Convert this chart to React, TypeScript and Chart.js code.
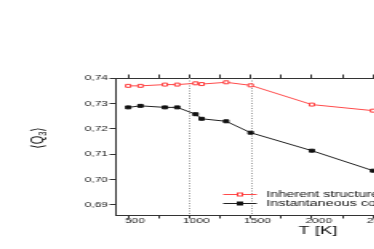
import React, { useEffect, useRef } from 'react';
import { Chart, registerables } from 'chart.js';

Chart.register(...registerables);

// ---- data ----
const temperatures = [500, 600, 800, 900, 1050, 1100, 1300, 1500, 2000, 2500];
const inherentQ3 = [0.737, 0.737, 0.7375, 0.7375, 0.738, 0.7377, 0.7384, 0.7372, 0.7296, 0.7272];
const instantaneousQ3 = [0.7285, 0.7291, 0.7285, 0.7285, 0.7258, 0.724, 0.723, 0.7185, 0.7114, 0.7035];
const seriesLabels = ['Inherent structures', 'Instantaneous configurations'];
const referenceTemps = [1000, 1500];
const tempTicks = [500, 750, 1000, 1250, 1500, 1750, 2000, 2250, 2500, 2750, 3000, 3250, 3500];
const labelledTemps = [500, 1000, 1500, 2000, 2500, 3000, 3500];

const FONT = '"Liberation Sans", Arial, "DejaVu Sans", sans-serif';
const W0 = 330;
const H = 249;
const SX = 1.6;

const overlayPlugin = {
  id: 'overlay',
  beforeDatasetsDraw(chart: any) {
    const { ctx, chartArea, scales } = chart;
    const x = scales.x;
    ctx.save();
    ctx.strokeStyle = '#9a9a9a';
    ctx.lineWidth = 1;
    ctx.setLineDash([1, 1.5]);
    referenceTemps.forEach((t) => {
      const px = Math.round(x.getPixelForValue(t)) + 0.5;
      ctx.beginPath();
      ctx.moveTo(px, chartArea.top);
      ctx.lineTo(px, chartArea.bottom);
      ctx.stroke();
    });
    ctx.restore();
  },
  afterDraw(chart: any) {
    const { ctx, chartArea, scales } = chart;

    // x tick labels (from the scale's own ticks)
    const xs = scales.x;
    ctx.save();
    ctx.fillStyle = '#1a1a1a';
    ctx.font = `7.5px ${FONT}`;
    ctx.textAlign = 'center';
    ctx.textBaseline = 'top';
    xs.ticks.forEach((tk: any) => {
      if (!labelledTemps.includes(tk.value)) return;
      ctx.fillText(String(tk.value), xs.getPixelForValue(tk.value) + 4.3, chartArea.bottom + 2);
    });
    ctx.restore();

    // legend inside plot, lower right
    ctx.save();
    chart.data.datasets.forEach((ds: any, i: number) => {
      const y = chartArea.bottom - 21 + i * 9;
      const lx = chartArea.left + 67;
      ctx.strokeStyle = ds.borderColor;
      ctx.lineWidth = 1;
      ctx.setLineDash([]);
      ctx.beginPath();
      ctx.moveTo(lx, y + 0.5);
      ctx.lineTo(lx + 21, y + 0.5);
      ctx.stroke();
      const s = 3;
      ctx.fillStyle = ds.pointBackgroundColor;
      ctx.fillRect(lx + 10.5 - s / 2, y + 0.5 - s / 2, s, s);
      ctx.strokeStyle = ds.pointBorderColor;
      ctx.strokeRect(lx + 10.5 - s / 2, y + 0.5 - s / 2, s, s);
      ctx.fillStyle = '#111';
      ctx.font = `9px ${FONT}`;
      ctx.textAlign = 'left';
      ctx.textBaseline = 'middle';
      ctx.fillText(ds.label, chartArea.left + 94, y + 0.5);
    });
    ctx.restore();

    // y-axis title <Q3>
    ctx.save();
    ctx.translate(chartArea.left - 49, chartArea.top + 60);
    ctx.rotate(-Math.PI / 2);
    ctx.fillStyle = '#111';
    ctx.textBaseline = 'middle';
    ctx.textAlign = 'left';
    const big = `11px ${FONT}`;
    const small = `7.5px ${FONT}`;
    const parts = [
      { t: '\u27E8', f: big, dy: 0 },
      { t: 'Q', f: big, dy: 0 },
      { t: '3', f: small, dy: 3.5 },
      { t: '\u27E9', f: big, dy: 0 },
    ];
    let total = 0;
    const widths = parts.map((p) => {
      ctx.font = p.f;
      const w = ctx.measureText(p.t).width;
      total += w;
      return w;
    });
    let cx = -total / 2;
    parts.forEach((p, i) => {
      ctx.font = p.f;
      ctx.fillText(p.t, cx, p.dy);
      cx += widths[i];
    });
    ctx.restore();
  },
};

const setTempTicks = (s: any) => {
  s.ticks = tempTicks.map((v) => ({ value: v }));
};

export default function App() {
  const canvasRef = useRef<HTMLCanvasElement | null>(null);

  useEffect(() => {
    if (!canvasRef.current) return;
    const tickFont = { family: FONT, size: 7.5 };
    const xTicks = {
      autoSkip: false,
      maxRotation: 0,
      display: false,
    };
    const chart = new Chart(canvasRef.current, {
      type: 'line',
      data: {
        datasets: [
          {
            label: seriesLabels[0],
            data: temperatures.map((t, i) => ({ x: t, y: inherentQ3[i] })),
            borderColor: '#ff4a4a',
            borderWidth: 1,
            pointStyle: 'rect',
            pointRadius: 2.1,
            pointBackgroundColor: '#ffffff',
            pointBorderColor: '#ff3a3a',
            pointBorderWidth: 1,
            xAxisID: 'x',
            yAxisID: 'y',
          },
          {
            label: seriesLabels[1],
            data: temperatures.map((t, i) => ({ x: t, y: instantaneousQ3[i] })),
            borderColor: '#222222',
            borderWidth: 1,
            pointStyle: 'rect',
            pointRadius: 2.1,
            pointBackgroundColor: '#111111',
            pointBorderColor: '#111111',
            pointBorderWidth: 1,
            xAxisID: 'x',
            yAxisID: 'y',
          },
        ],
      },
      options: {
        animation: false,
        responsive: false,
        devicePixelRatio: 1,
        layout: { padding: { left: 0, right: 4.7, top: 74.5, bottom: 0 } },
        plugins: { legend: { display: false }, tooltip: { enabled: false } },
        scales: {
          x: {
            type: 'linear',
            position: 'bottom',
            min: 400,
            max: 3700,
            afterBuildTicks: setTempTicks,
            afterFit: (s: any) => {
              s.height = 34;
            },
            grid: { drawOnChartArea: false, drawTicks: true, tickLength: 3.5, tickColor: '#333', tickWidth: 1 },
            border: { color: '#333', width: 1 },
            ticks: xTicks,
            title: {
              display: true,
              text: 'T [K]',
              color: '#111',
              font: { family: FONT, size: 11.5 },
              padding: { top: 0, bottom: 11 },
            },
          },
          x2: {
            type: 'linear',
            position: 'top',
            min: 400,
            max: 3700,
            afterBuildTicks: setTempTicks,
            afterFit: (s: any) => {
              s.height = 3.5;
            },
            grid: { drawOnChartArea: false, drawTicks: true, tickLength: 3.5, tickColor: '#333', tickWidth: 1 },
            border: { color: '#333', width: 1 },
            ticks: xTicks,
          },
          y: {
            type: 'linear',
            min: 0.686,
            max: 0.7401,
            afterFit: (s: any) => {
              s.width = 72.5;
            },
            grid: { drawOnChartArea: false, drawTicks: true, tickLength: 4, tickColor: '#333', tickWidth: 1 },
            border: { color: '#333', width: 1 },
            ticks: {
              stepSize: 0.01,
              includeBounds: false,
              padding: 1,
              color: '#1a1a1a',
              font: tickFont,
              callback: (v: any) => Number(v).toFixed(2).replace('.', ','),
            },
          },
        },
      } as any,
      plugins: [overlayPlugin],
    });
    return () => chart.destroy();
  }, []);

  return (
    <div
      style={{
        position: 'fixed',
        left: 0,
        top: 0,
        width: 374,
        height: H,
        overflow: 'hidden',
        background: '#fff',
      }}
    >
      <div style={{ width: W0, height: H, transform: `scaleX(${SX})`, transformOrigin: '0 0' }}>
        <canvas ref={canvasRef} width={W0} height={H} style={{ display: 'block', width: W0, height: H }} />
      </div>
    </div>
  );
}
